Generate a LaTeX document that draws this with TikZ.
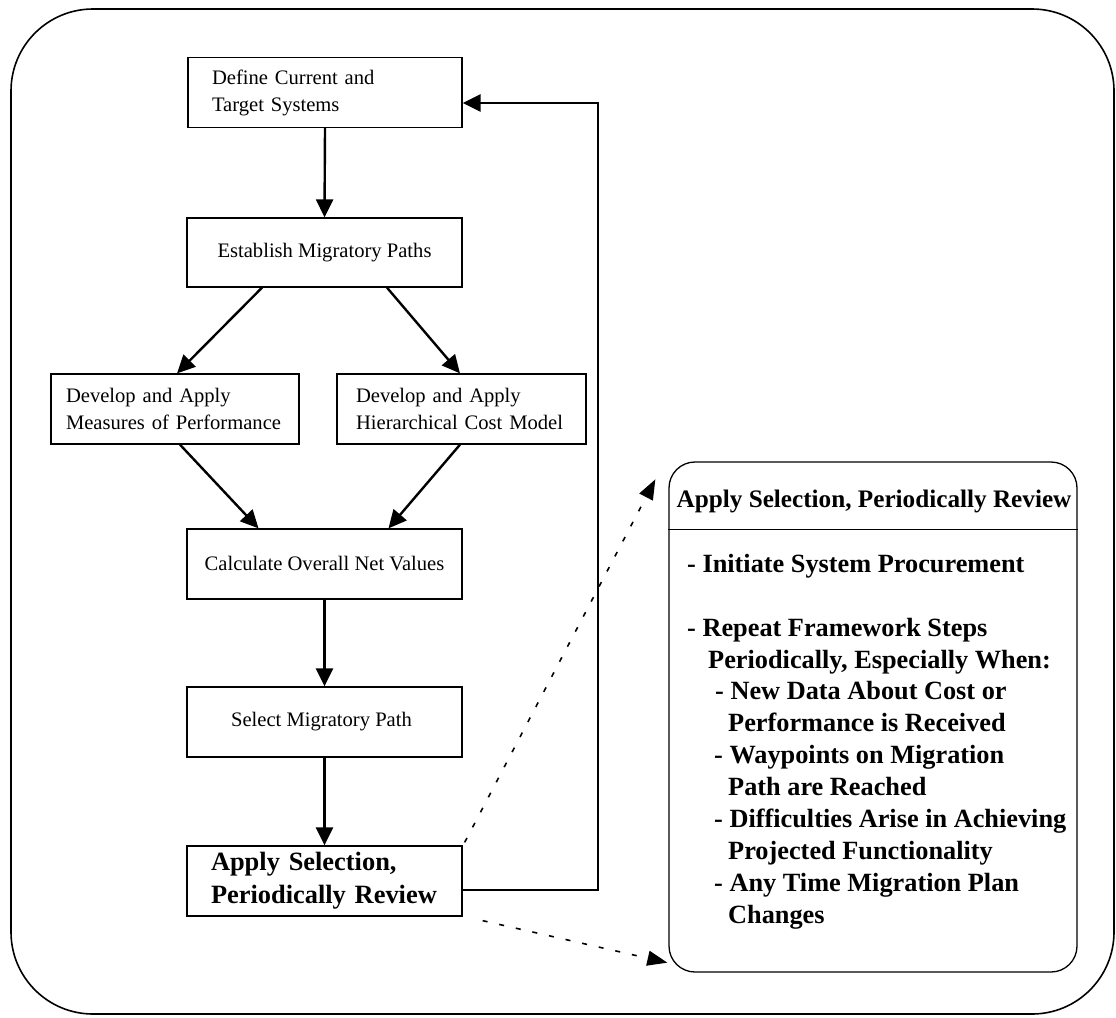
\documentclass[tikz,border=0pt]{standalone}
\usepackage{fontspec}
\setmainfont{Liberation Serif}
\usetikzlibrary{arrows.meta,calc}
\begin{document}
\begin{tikzpicture}[x=1pt,y=-1pt,
  box/.style={draw,line width=1.3pt,inner ysep=0pt,minimum height=70pt,font=\fontsize{20.6}{27}\selectfont},
  arr/.style={line width=2.4pt,-{Triangle[length=18pt,width=17pt]}},
  dotarr/.style={line width=1.6pt,dash pattern=on 5pt off 12pt,-{Triangle[length=20pt,width=15pt]}},
  body/.style={anchor=base west,inner sep=0pt,font=\bfseries\fontsize{26.3}{31}\selectfont}]
\useasboundingbox (0,0) rectangle (1116,1017);
% outer frame
\node[draw,line width=1.6pt,rounded corners=82pt,minimum width=1103pt,minimum height=1005pt,inner sep=0pt] (frame) at (562.5,511.5) {};
% flow boxes
\node[box,text width=226pt,inner xsep=24pt,align=left] (def) at (325,92.5) {Define Current and\\Target Systems};
\node[box,minimum width=275pt,minimum height=69pt] (est) at (324.5,252.5) {Establish Migratory Paths};
\node[box,text width=218pt,inner xsep=15pt,align=left] (meas) at (175,409) {Develop and Apply\\Measures of Performance};
\node[box,text width=211pt,inner xsep=19pt,align=left] (cost) at (461.5,409) {Develop and Apply\\Hierarchical Cost Model};
\node[box,minimum width=275pt] (calc) at (324.5,564) {Calculate Overall Net Values};
\node[box,minimum width=275pt] (sel) at (324.5,722) {\hspace*{-6pt}Select Migratory Path};
\node[box,text width=227pt,inner xsep=24pt,align=left,font=\bfseries\fontsize{26.4}{33}\selectfont] (app) at (324.5,881) {Apply Selection,\\Periodically Review};
% right box
\node[draw,line width=1.3pt,rounded corners=26pt,minimum width=408pt,minimum height=510pt,inner sep=0pt] (rb) at (873,717) {};
\node[anchor=base,inner sep=0pt,font=\bfseries\fontsize{25.2}{30}\selectfont] (rbt) at (874,507) {Apply Selection, Periodically Review};
\draw[line width=1.3pt] ($(rb.north west)+(0,68)$) -- ($(rb.north east)+(0,68)$);
\node[body] (l1) at (687,572) {- Initiate System Procurement};
\node[body] (l2) at (687,636) {- Repeat Framework Steps};
\node[body] (l3) at (708,668) {Periodically, Especially When:};
\node[body] (l4) at (715,699) {- New Data About Cost or};
\node[body] (l5) at (728,731) {Performance is Received};
\node[body] (l6) at (714,763) {- Waypoints on Migration};
\node[body] (l7) at (728,795) {Path are Reached};
\node[body] (l8) at (714,827) {- Difficulties Arise in Achieving};
\node[body] (l9) at (728,859) {Projected Functionality};
\node[body] (l10) at (714,891) {- Any Time Migration Plan};
\node[body] (l11) at (728,923) {Changes};
% connectors
\draw[arr] (def.south) -- (est.north);
\draw[arr] ([xshift=-62.5pt]est.south) -- ([xshift=2pt]meas.north);
\draw[arr] ([xshift=62.5pt]est.south) -- ([xshift=-1.5pt]cost.north);
\draw[arr] ([xshift=5pt]meas.south) -- ([xshift=-66pt]calc.north);
\draw[arr] ([xshift=-1.5pt]cost.south) -- ([xshift=64pt]calc.north);
\draw[arr] (calc.south) -- (sel.north);
\draw[arr] (sel.south) -- (app.north);
\coordinate (fbtop) at (598,103);
\draw[arr] ([yshift=-9pt]app.east) -| (fbtop) -- ([yshift=-10.5pt]def.east);
\draw[dotarr] ([xshift=2pt,yshift=3pt]app.north east) -- ([xshift=-13pt,yshift=-18pt]rb.north west);
\draw[dotarr] ([xshift=20pt,yshift=-4pt]app.south east) -- ([xshift=-1pt,yshift=10pt]rb.south west);
\end{tikzpicture}
\end{document}
